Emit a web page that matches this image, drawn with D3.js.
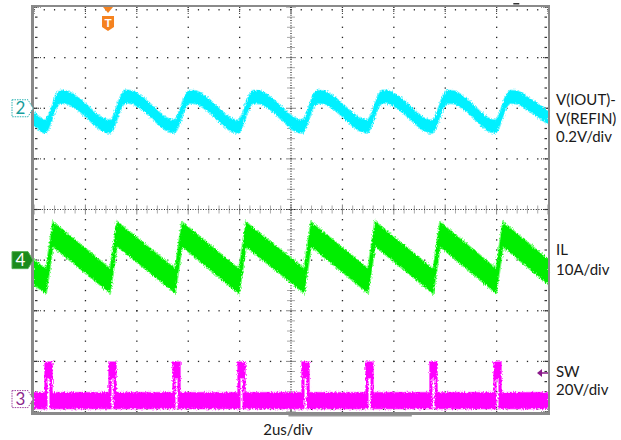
<!DOCTYPE html>
<html><head><meta charset="utf-8">
<script src="https://cdn.jsdelivr.net/npm/d3@7"></script>
<style>
body{margin:0;background:#fff}
svg{display:block}
text{font-family:Lato,"Noto Sans",sans-serif}
</style>
</head><body>
<svg id="c" width="621" height="440"></svg>
<script>
// ---------- DATA ----------
const timeDivs = 10;          // horizontal divisions
const usPerDiv = 2;           // 2us/div
const vertDivs = 8;           // vertical divisions
const triggerT = 2.88;        // us, trigger position

// CH2  V(IOUT)-V(REFIN): [time us, mV]
const ch2Scale = 200;   // mV/div
const ch2Offset = 2;    // div of marker
const ch2Band = 25;     // mV half-width of noise band
const ch2Points = [
  [0,-40],
  [0.43,-72],[0.55,-58],[0.66,-30],[0.86,25],[1.05,45],[1.29,43],[1.60,25],
  [2.96,-72],[3.08,-58],[3.19,-30],[3.39,25],[3.58,46],[3.82,43],[4.13,25],
  [5.45,-72],[5.57,-58],[5.68,-30],[5.88,25],[6.07,45],[6.31,43],[6.62,25],
  [7.94,-73],[8.06,-58],[8.17,-30],[8.37,25],[8.56,45],[8.80,43],[9.11,25],
  [10.43,-72],[10.55,-58],[10.66,-30],[10.86,25],[11.05,45],[11.29,43],[11.60,25],
  [12.96,-72],[13.08,-58],[13.19,-30],[13.39,25],[13.58,46],[13.82,43],[14.13,25],
  [15.49,-73],[15.61,-58],[15.72,-30],[15.92,25],[16.11,45],[16.35,43],[16.66,25],
  [17.94,-72],[18.06,-58],[18.17,-30],[18.37,25],[18.56,45],[18.80,43],[19.11,25],
  [20,-37]
];

// CH4  IL: [time us, A]
const ch4Scale = 10;    // A/div
const ch4Offset = -1;   // div of marker
const ch4Band = 2.4;    // A half-width of noise band
const ch4Points = [
  [0,-2.5],
  [0.47,-4.1],[0.74,5.1],
  [2.96,-4.1],[3.23,5.2],
  [5.49,-4.1],[5.76,5.1],
  [7.98,-4.2],[8.25,5.1],
  [10.51,-4.1],[10.78,5.1],
  [13.00,-4.1],[13.27,5.2],
  [15.53,-4.2],[15.80,5.1],
  [17.98,-4.1],[18.25,5.1],
  [20,-2.3]
];

// CH3  SW: switching pulses [rise us], [fall us], levels in V
const ch3Scale = 20;      // V/div
const ch3Offset = -3.745; // div of marker
const ch3Low = -0.6;
const ch3High = 11.5;
const ch3Band = 3.2;
const ch3Rise = [0.42,2.91,5.40,7.93,10.42,12.91,15.40,17.89];
const ch3Fall = [0.71,3.20,5.69,8.22,10.71,13.20,15.69,18.18];
const ch3Edge = 0.09;     // us, edge width

const ch2Labels = ["V(IOUT)-","V(REFIN)","0.2V/div"];
const ch4Labels = ["IL","10A/div"];
const ch3Labels = ["SW","20V/div"];
const timeLabel = "2us/div";

// ---------- LAYOUT ----------
const L = 34, R = 548, T = 7, B = 412;
const svg = d3.select("#c");
const x = d3.scaleLinear().domain([0, timeDivs*usPerDiv]).range([L, R]);
const yDiv = d3.scaleLinear().domain([-vertDivs/2, vertDivs/2]).range([B, T]);

const defs = svg.append("defs");
const f = defs.append("filter").attr("id","fz").attr("x","-2%").attr("y","-30%").attr("width","104%").attr("height","160%");
f.append("feTurbulence").attr("type","fractalNoise").attr("baseFrequency","0.9 0.5").attr("numOctaves",2).attr("seed",4).attr("result","n");
f.append("feDisplacementMap").attr("in","SourceGraphic").attr("in2","n").attr("scale",4).attr("xChannelSelector","R").attr("yChannelSelector","G");

svg.append("rect").attr("width",621).attr("height",440).attr("fill","#fff");

// ---------- GRID ----------
const grid = svg.append("g");
const subX = d3.range(0, timeDivs*5+1).map(i => x(i*usPerDiv/5));
const subY = d3.range(0, vertDivs*5+1).map(i => yDiv(-vertDivs/2 + i/5));
d3.range(1, timeDivs).filter(i => i !== timeDivs/2).forEach(i => {
  const gx = x(i*usPerDiv);
  subY.forEach(yy => grid.append("rect").attr("x",gx-0.6).attr("y",yy-0.6).attr("width",1.3).attr("height",1.3).attr("fill","#222"));
});
d3.range(1, vertDivs).filter(j => j !== vertDivs/2).forEach(j => {
  const gy = yDiv(-vertDivs/2 + j);
  subX.forEach(xx => grid.append("rect").attr("x",xx-0.6).attr("y",gy-0.6).attr("width",1.3).attr("height",1.3).attr("fill","#222"));
});
const cx = x(timeDivs*usPerDiv/2), cy = yDiv(0);
subX.forEach((xx,i) => grid.append("line").attr("x1",xx).attr("x2",xx)
  .attr("y1",cy-(i%5===0?5:4)).attr("y2",cy+(i%5===0?5:4)).attr("stroke",i%5===0?"#888":"#aaa").attr("stroke-width",1));
subY.forEach((yy,i) => grid.append("line").attr("y1",yy).attr("y2",yy)
  .attr("x1",cx-(i%5===0?5:4)).attr("x2",cx+(i%5===0?5:4)).attr("stroke",i%5===0?"#888":"#aaa").attr("stroke-width",1));
grid.append("line").attr("x1",L).attr("x2",R).attr("y1",cy).attr("y2",cy).attr("stroke","#222").attr("stroke-width",1.2).attr("stroke-dasharray","1,1.6");
grid.append("line").attr("x1",cx).attr("x2",cx).attr("y1",T).attr("y2",B).attr("stroke","#222").attr("stroke-width",1.2).attr("stroke-dasharray","1,1.6");
subX.forEach(xx => {
  grid.append("rect").attr("x",xx-0.6).attr("y",T+2).attr("width",1.2).attr("height",1.5).attr("fill","#333");
  grid.append("rect").attr("x",xx-0.6).attr("y",B-3.5).attr("width",1.2).attr("height",1.5).attr("fill","#333");
});
subY.forEach(yy => {
  grid.append("rect").attr("x",L+1).attr("y",yy-0.6).attr("width",2.5).attr("height",1.2).attr("fill","#333");
  grid.append("rect").attr("x",R-3.5).attr("y",yy-0.6).attr("width",2.5).attr("height",1.2).attr("fill","#333");
});
d3.range(0, vertDivs+1).forEach(j => {
  const gy = yDiv(-vertDivs/2 + j);
  grid.append("line").attr("x1",L).attr("x2",L+7).attr("y1",gy).attr("y2",gy).attr("stroke","#333").attr("stroke-dasharray","1,1");
  grid.append("line").attr("x1",R-7).attr("x2",R).attr("y1",gy).attr("y2",gy).attr("stroke","#333").attr("stroke-dasharray","1,1");
});
d3.range(0, timeDivs+1).forEach(i => {
  const gx = x(i*usPerDiv);
  grid.append("line").attr("x1",gx).attr("x2",gx).attr("y1",T).attr("y2",T+7).attr("stroke","#333").attr("stroke-dasharray","1,1");
  grid.append("line").attr("x1",gx).attr("x2",gx).attr("y1",B-7).attr("y2",B).attr("stroke","#333").attr("stroke-dasharray","1,1");
});

// ---------- TRACES ----------
function drawBand(data, toDiv, band, fill, fringe, curve) {
  const area = d3.area()
    .x(d => x(d[0]))
    .y0(d => yDiv(toDiv(d[1] - band)))
    .y1(d => yDiv(toDiv(d[1] + band)))
    .curve(curve);
  const g = svg.append("g").attr("filter","url(#fz)");
  g.append("path").attr("d", area(data)).attr("fill", fringe).attr("stroke", fringe).attr("stroke-width", 2.2);
  g.append("path").attr("d", area(data)).attr("fill", fill);
}
drawBand(ch2Points, v => ch2Offset + v/ch2Scale, ch2Band, "#00f0ff", "#7ff6ff", d3.curveMonotoneX);
drawBand(ch4Points, v => ch4Offset + v/ch4Scale, ch4Band, "#00ee00", "#80ff80", d3.curveLinear);

(function(){
  const toDiv = v => ch3Offset + v/ch3Scale;
  const lo = ch3Low, hi = ch3High, n = ch3Band, e = ch3Edge;
  const pts = [[0, lo+n, lo-n]];
  ch3Rise.forEach((r,i) => {
    const fl = ch3Fall[i];
    pts.push([r, lo+n, lo-n],[r, hi+n, lo-n],[r+e, hi+n, lo-n],[r+e, hi+n, hi-n],
             [fl-e, hi+n, hi-n],[fl-e, hi+n, lo-n],[fl, hi+n, lo-n],[fl, lo+n, lo-n]);
  });
  pts.push([timeDivs*usPerDiv, lo+n, lo-n]);
  const area = d3.area().x(d => x(d[0])).y1(d => yDiv(toDiv(d[1]))).y0(d => yDiv(toDiv(d[2])));
  const g = svg.append("g").attr("filter","url(#fz)");
  g.append("path").attr("d", area(pts)).attr("fill","#ff80ff").attr("stroke","#ff80ff").attr("stroke-width",1.6);
  g.append("path").attr("d", area(pts)).attr("fill","#ff00ff");
})();

// ---------- FRAME ----------
const fr = svg.append("g").attr("fill","#8a8a8a");
fr.append("rect").attr("x",L-3).attr("y",T-2).attr("width",R-L+5).attr("height",2);
fr.append("rect").attr("x",L-3).attr("y",B).attr("width",R-L+5).attr("height",3);
fr.append("rect").attr("x",L-3).attr("y",T-2).attr("width",3).attr("height",B-T+5);
fr.append("rect").attr("x",R).attr("y",T-2).attr("width",2).attr("height",B-T+5);
svg.append("rect").attr("x",x(9.9)).attr("y",B+3).attr("width",x(14.7)-x(9.9)).attr("height",1.5).attr("fill","#999");
svg.append("rect").attr("x",x(18.65)).attr("y",T-4).attr("width",6).attr("height",1.5).attr("fill","#333");

// ---------- MARKERS ----------
function chMarker(yy, label, style) {
  const g = svg.append("g");
  const pts = [[12,yy-8.5],[28,yy-8.5],[L-1,yy],[28,yy+8.5],[12,yy+8.5]];
  g.append("polygon").attr("points", pts.map(p=>p.join(",")).join(" "))
    .attr("fill", style.fill).attr("stroke", style.stroke).attr("stroke-width",1)
    .attr("stroke-dasharray", style.dash || null);
  g.append("text").attr("x",20.5).attr("y",yy+6).attr("text-anchor","middle")
    .attr("font-size",17).attr("fill",style.text).text(label);
}
chMarker(yDiv(ch2Offset), "2", {fill:"#fff", stroke:"#2fb5b5", dash:"1.5,1", text:"#179c9c"});
chMarker(yDiv(ch4Offset), "4", {fill:"#1b8b1b", stroke:"#52b052", text:"#fff"});
chMarker(yDiv(ch3Offset), "3", {fill:"#fff", stroke:"#a040a0", dash:"1.5,1", text:"#8c278c"});

const tx = x(triggerT);
svg.append("polygon").attr("points",`${tx-5},${T} ${tx+5},${T} ${tx},${T+6}`).attr("fill","#f5821f");
svg.append("path").attr("d",`M${tx-6},${T+9} h12 v11 l-6,4 l-6,-4 Z`).attr("fill","#f5821f");
svg.append("text").attr("x",tx).attr("y",T+20).attr("text-anchor","middle").attr("font-size",12)
  .attr("font-weight","bold").attr("fill","#fff").text("T");

const ay = 373;
svg.append("polygon").attr("points",`${R-11},${ay} ${R-6},${ay-4} ${R-6},${ay+4}`).attr("fill","#8b1a8b");
svg.append("line").attr("x1",R-7).attr("x2",R).attr("y1",ay).attr("y2",ay).attr("stroke","#8b1a8b").attr("stroke-width",1.5);

// ---------- LABELS ----------
const lab = svg.append("g").attr("font-size",15).attr("fill","#1a1a1a");
[105,124,142].forEach((yy,i)=> lab.append("text").attr("x",556).attr("y",yy).text(ch2Labels[i]));
[255,275].forEach((yy,i)=> lab.append("text").attr("x",556).attr("y",yy).text(ch4Labels[i]));
[377,395].forEach((yy,i)=> lab.append("text").attr("x",556).attr("y",yy).text(ch3Labels[i]));
lab.append("text").attr("x",288).attr("y",435).attr("text-anchor","middle").text(timeLabel);
</script>
</body></html>
